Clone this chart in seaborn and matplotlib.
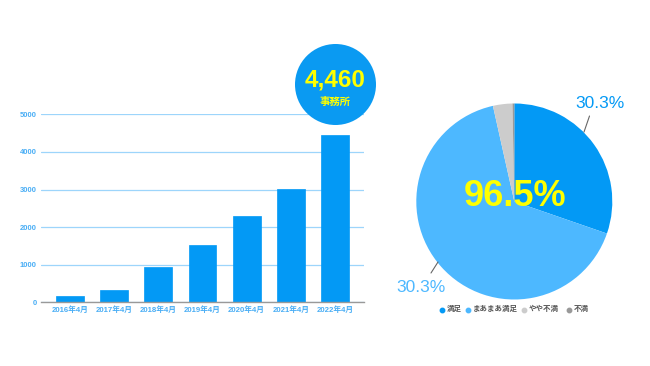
import matplotlib
matplotlib.use("Agg")
import matplotlib.pyplot as plt
from matplotlib.patches import Circle
import seaborn as sns
import pandas as pd

years = ["2016年4月", "2017年4月", "2018年4月", "2019年4月", "2020年4月", "2021年4月", "2022年4月"]
offices = [170, 330, 950, 1530, 2290, 3010, 4460]
y_ticks = [0, 1000, 2000, 3000, 4000, 5000]

pie_labels = ["満足", "まあまあ満足", "やや不満", "不満"]
pie_values = [30.3, 66.2, 3.2, 0.3]
pie_colors = ["#0399f5", "#4db8ff", "#cccccc", "#999999"]
shown_labels = ["30.3%", "30.3%"]
headline = "96.5%"
bubble_value = "4,460"
bubble_unit = "事務所"

sns.set_theme(style="white")
FAM = ["Liberation Sans", "Noto Sans CJK JP", "DejaVu Sans"]
plt.rcParams["font.family"] = FAM

fig = plt.figure(figsize=(6.5, 3.66), dpi=100)
fig.patch.set_facecolor("white")

# ---- Bar chart ----
ax = fig.add_axes([41/650, 1-302.3/366, 323/650, 188/366])
df = pd.DataFrame({"year": years, "count": offices})
sns.barplot(data=df, x="year", y="count", color="#0399f5", width=0.63, ax=ax,
            saturation=1, edgecolor="#0399f5", linewidth=0.5, errorbar=None)
ax.set_xlim(-0.656, 6.656)
ax.set_ylim(0, 5000)
ax.set_yticks(y_ticks)
ax.set_yticklabels([str(t) for t in y_ticks])
ax.set_xlabel("")
ax.set_ylabel("")
ax.grid(axis="y", color="#9dd5fb", linewidth=0.9)
ax.set_axisbelow(True)
for s in ["top", "right", "left"]:
    ax.spines[s].set_visible(False)
ax.spines["bottom"].set_color("#999999")
ax.spines["bottom"].set_linewidth(1.0)
ax.tick_params(axis="both", length=0, pad=3)
for lab in ax.get_yticklabels():
    lab.set_fontsize(5.5)
    lab.set_fontweight("bold")
    lab.set_color("#4aaef5")
for lab in ax.get_xticklabels():
    lab.set_fontsize(5.6)
    lab.set_fontweight("bold")
    lab.set_color("#4aaef5")

# overlay axes in pixel coordinates
bax = fig.add_axes([0, 0, 1, 1], zorder=10)
bax.set_xlim(0, 650)
bax.set_ylim(366, 0)
bax.axis("off")
bax.patch.set_alpha(0)
bax.add_patch(Circle((335.5, 84.5), 40.5, facecolor="#0a9af2", edgecolor="none"))
bax.text(335.5, 80, bubble_value, ha="center", va="center", fontsize=17.5,
         fontweight="bold", color="#ffff00")
bax.text(335.5, 102, bubble_unit, ha="center", va="center", fontsize=7.5,
         fontweight="bold", color="#ffff00")

# ---- Pie ----
r = 98
pax = fig.add_axes([(514.3-r)/650, 1-(201.5+r)/366, 2*r/650, 2*r/366])
wedges, _ = pax.pie(pie_values, colors=pie_colors, startangle=90, counterclock=False,
                    wedgeprops=dict(linewidth=0))
pax.set_aspect("auto")
pax.set_xlim(-1, 1)
pax.set_ylim(-1, 1)

bax.plot([584, 589.5], [132, 116], color="#666666", linewidth=0.8)
bax.plot([431, 438], [273, 262], color="#666666", linewidth=0.8)
bax.text(600, 104, shown_labels[0], ha="center", va="center", fontsize=12.5,
         color="#0399f5")
bax.text(421, 288, shown_labels[1], ha="center", va="center", fontsize=12.5,
         color="#4db8ff")
bax.text(515, 197, headline, ha="center", va="center", fontsize=26,
         fontweight="bold", color="#ffff00")

# Legend
xs = [442, 468, 524, 569]
for x, lab, c in zip(xs, pie_labels, pie_colors):
    bax.plot([x], [309.5], marker="o", markersize=3.2, color=c, linestyle="none")
    bax.text(x + 5, 309.5, lab, ha="left", va="center", fontsize=5.4,
             fontweight="bold", color="#555555")

fig.savefig("out.png", dpi=100, facecolor="white")
